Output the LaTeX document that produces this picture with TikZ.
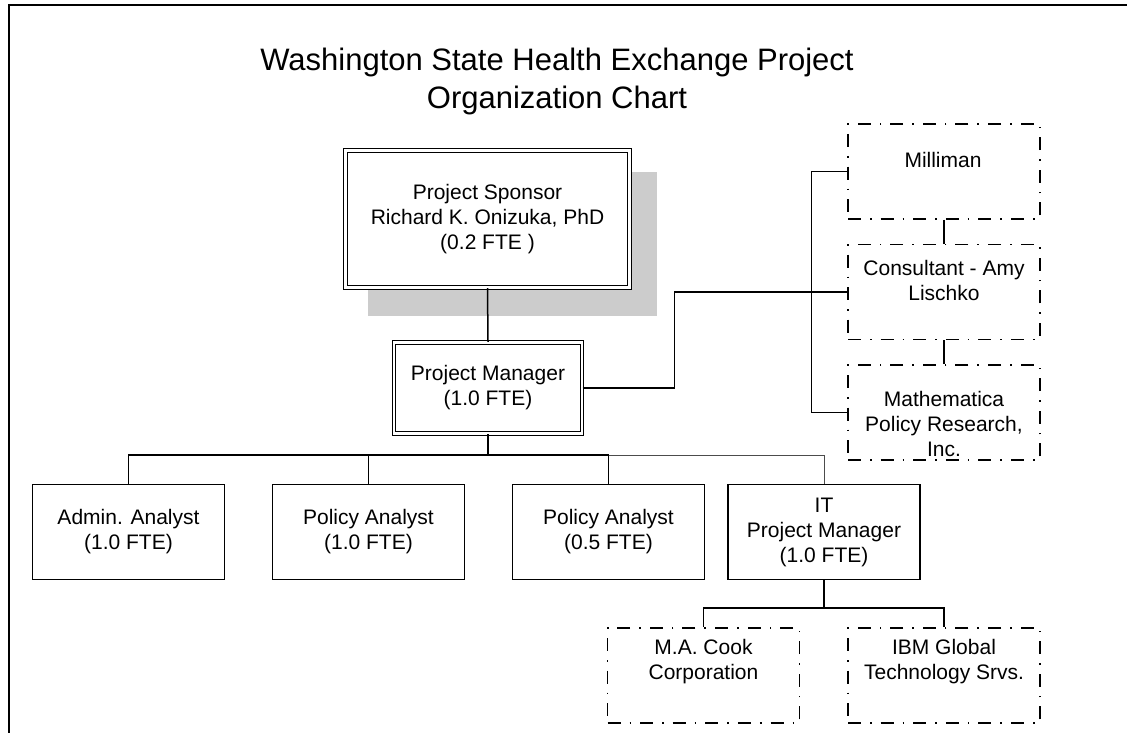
\documentclass[tikz,border=0pt]{standalone}
\usepackage{fontspec}
\setmainfont{Liberation Sans}
\usetikzlibrary{calc}
\begin{document}
\begin{tikzpicture}[x=1pt,y=-1pt,
  txt/.style={align=center,inner sep=0pt,font=\fontsize{21}{25}\selectfont},
  box/.style={txt,draw,line width=1.5pt,minimum width=192pt,minimum height=95pt},
  dbox/.style={txt,draw,double,double distance=2.3pt,line width=1.3pt},
  ext/.style={draw,line width=1.4pt,dash pattern=on 13pt off 9pt on 1.6pt off 9pt,minimum width=192pt,minimum height=95pt,inner sep=0pt},
  conn/.style={line width=1.5pt},
  thinconn/.style={line width=0.9pt,black!70}]
\useasboundingbox (0,0) rectangle (1127,733);
% frame
\draw[line width=2pt] (8.5,733) -- (8.5,5) -- (1127,5);
% title
\node[align=center,inner sep=0pt,font=\fontsize{31}{38}\selectfont] (title) at (557,81)
  {Washington State Health Exchange Project\\Organization Chart};
% shadow
\fill[gray!40] (368,172) rectangle (657,316);
% boxes
\node[dbox,fill=white,minimum width=284pt,minimum height=137pt] (sponsor) at (487.5,219)
  {Project Sponsor\\Richard K. Onizuka, PhD\\(0.2 FTE )};
\node[dbox,minimum width=188pt,minimum height=91pt] (pm) at (488,388)
  {Project Manager\\(1.0 FTE)};
\node[box] (admin) at (128.5,532) {Admin. Analyst\\(1.0 FTE)};
\node[box] (pa1) at (368.5,532) {Policy Analyst\\(1.0 FTE)};
\node[box] (pa2) at (608.5,532) {Policy Analyst\\(0.5 FTE)};
\node[box] (it) at (824,532) {IT\\Project Manager\\(1.0 FTE)};
\node[ext] (milliman) at (944,171.5) {};
\node[ext] (consult) at (944,292) {};
\node[ext] (math) at (944,412.5) {};
\node[ext] (cook) at (703.5,675.5) {};
\node[ext] (ibm) at (944,675.5) {};
\node[txt] (millimantxt) at (943,160) {Milliman};
\node[txt] (consulttxt) at (944,280) {Consultant - Amy\\Lischko};
\node[txt] (mathtxt) at (944,424) {Mathematica\\Policy Research,\\Inc.};
\node[txt] (cooktxt) at (703.5,662) {M.A. Cook\\Corporation};
\node[txt] (ibmtxt) at (944,662) {IBM Global\\Technology Srvs.};
% connectors
\coordinate (bus) at (488,455);
\coordinate (itbus) at (824,608);
\draw[conn] (sponsor.south) -- (pm.north);
\draw[conn] (pm.south) -- (bus);
\draw[conn] (bus) -| (admin.north);
\draw[conn] (bus) -| (pa1.north);
\draw[conn] (bus) -| (pa2.north);
\draw[thinconn] (pa2.north |- bus) -| (it.north);
\draw[conn] (it.south) -- (itbus);
\draw[conn] (itbus) -| (cook.north);
\draw[conn] (itbus) -| (ibm.north);
\draw[conn] (milliman.south) -- (consult.north);
\draw[conn] (consult.south) -- (math.north);
\draw[conn] (pm.east) -- ++(92,0) |- (consult.west);
\draw[conn] (milliman.west) -- ++(-36,0) |- (math.west);
\end{tikzpicture}
\end{document}
